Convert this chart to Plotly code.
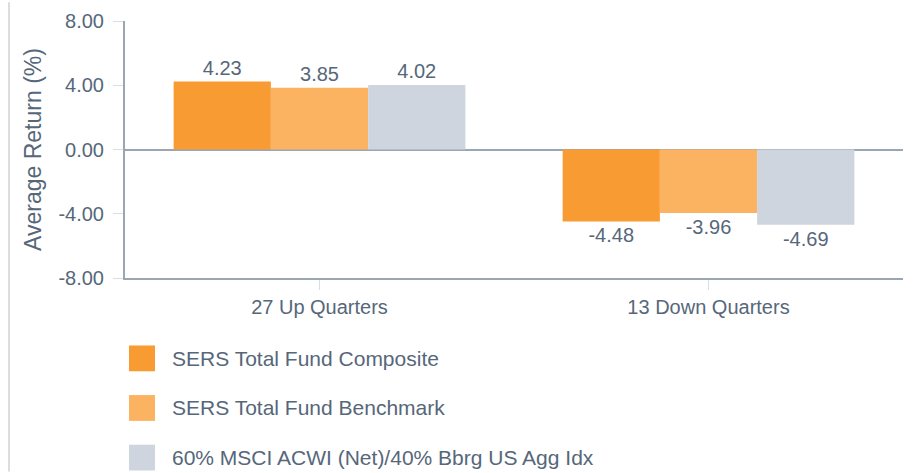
import plotly.graph_objects as go

# Chart data
categories = ["27 Up Quarters", "13 Down Quarters"]
series_names = [
    "SERS Total Fund Composite",
    "SERS Total Fund Benchmark",
    "60% MSCI ACWI (Net)/40% Bbrg US Agg Idx",
]
composite = [4.23, -4.48]
benchmark = [3.85, -3.96]
blend_index = [4.02, -4.69]
tick_values = [-8, -4, 0, 4, 8]
tick_labels = ["-8.00", "-4.00", "0.00", "4.00", "8.00"]

colors = ["#F99B33", "#FBB362", "#CED5DE"]
text_color = "#56677A"
axis_color = "#9AA6B4"
font_family = "Liberation Sans, Arial, sans-serif"

W, H = 913, 473
M_L, M_R, M_T, M_B = 125, 10, 19, 195
plot_w = W - M_L - M_R
plot_h = H - M_T - M_B

fig = go.Figure()
for name, vals, col in zip(series_names, [composite, benchmark, blend_index], colors):
    fig.add_trace(go.Bar(
        x=categories, y=vals, name=name,
        marker=dict(color=col, line=dict(width=0)),
        text=[f"{v:.2f}" for v in vals],
        textposition="outside",
        textfont=dict(size=20, color=text_color, family=font_family),
        cliponaxis=False,
        showlegend=False,
    ))

# Legend drawn as large swatches with text beside them
def px_to_paper_x(px):
    return (px - M_L) / plot_w

def px_to_paper_y(py):
    return (H - M_B - py) / plot_h

shapes = []
annotations = []
row_top = 346
row_step = 50
sw = 26
for i, (name, col) in enumerate(zip(series_names, colors)):
    top = row_top + i * row_step
    shapes.append(dict(
        type="rect", xref="paper", yref="paper",
        x0=px_to_paper_x(129), x1=px_to_paper_x(129 + sw),
        y0=px_to_paper_y(top + sw), y1=px_to_paper_y(top),
        fillcolor=col, line=dict(width=0), layer="above",
    ))
    annotations.append(dict(
        xref="paper", yref="paper",
        x=px_to_paper_x(170), y=px_to_paper_y(top + sw / 2),
        xanchor="left", yanchor="middle", showarrow=False,
        text=name, font=dict(size=21, color=text_color, family=font_family),
    ))

# Light frame line on the left edge of the page
shapes.append(dict(
    type="line", xref="paper", yref="paper",
    x0=px_to_paper_x(9), x1=px_to_paper_x(9),
    y0=px_to_paper_y(0), y1=px_to_paper_y(H),
    line=dict(color="#DDDDDD", width=2),
))

fig.update_layout(
    width=W, height=H,
    margin=dict(l=M_L, r=M_R, t=M_T, b=M_B, pad=0),
    paper_bgcolor="white", plot_bgcolor="white",
    barmode="group", bargap=0.25, bargroupgap=0,
    font=dict(family=font_family, color=text_color),
    shapes=shapes, annotations=annotations,
    showlegend=False,
)
fig.update_xaxes(
    showline=True, linecolor=axis_color, linewidth=2,
    ticks="outside", ticklen=10, tickcolor="#DADDE2", tickwidth=1,
    tickfont=dict(size=20, color=text_color),
    showgrid=False, zeroline=False,
)
fig.update_yaxes(
    range=[-8, 8], tickvals=tick_values, ticktext=tick_labels,
    showline=True, linecolor=axis_color, linewidth=2,
    ticks="outside", ticklen=10, tickcolor="#DADDE2", tickwidth=1,
    ticklabelstandoff=5,
    tickfont=dict(size=20, color=text_color),
    showgrid=False, zeroline=True, zerolinecolor=axis_color, zerolinewidth=2,
    title=dict(text="Average Return (%)", font=dict(size=23, color=text_color), standoff=10),
)

fig.write_html("out.html")
